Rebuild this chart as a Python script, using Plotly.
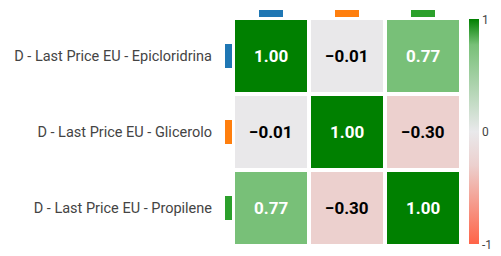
import plotly.graph_objects as go

labels = ["D - Last Price EU - Epicloridrina",
          "D - Last Price EU - Glicerolo",
          "D - Last Price EU - Propilene"]
series_colors = ["#1f77b4", "#ff7f0e", "#2ca02c"]
corr = [[1.00, -0.01, 0.77],
        [-0.01, 1.00, -0.30],
        [0.77, -0.30, 1.00]]
cbar_ticks = [-1, 0, 1]
cbar_text = ["-1", "0", "1"]

colorscale = [
    [0.0, "rgb(255,99,71)"],
    [0.35, "rgb(236,208,206)"],
    [0.5, "rgb(233,233,235)"],
    [0.885, "rgb(120,192,120)"],
    [1.0, "rgb(0,128,0)"],
]

n = len(labels)
idx = list(range(n))
text_colors = [["white" if v > 0.5 else "black" for v in row] for row in corr]

fig = go.Figure()
fig.add_trace(go.Heatmap(
    z=corr, x=idx, y=idx,
    zmin=-1, zmax=1,
    colorscale=colorscale,
    xgap=4, ygap=4,
    showscale=True,
    hoverinfo="skip",
    colorbar=dict(
        x=1.035, xanchor="left", xpad=0,
        y=0.5, yanchor="middle", ypad=0,
        len=0.985, lenmode="fraction",
        thickness=10, outlinewidth=0,
        tickvals=cbar_ticks, ticktext=cbar_text,
        ticks="", tickfont=dict(size=12, color="#444", family="Roboto"),
    ),
))

# cell annotations
for i in range(n):
    for j in range(n):
        fig.add_annotation(
            x=j, y=i, xref="x", yref="y",
            text=f"<b>{corr[i][j]:.2f}</b>".replace("-", "\u2212"),
            showarrow=False,
            font=dict(size=17, color=text_colors[i][j], family="Roboto"),
        )

# color marker shapes
for k in range(n):
    fig.add_shape(type="rect", xref="x", yref="paper",
                  x0=k - 0.158, x1=k + 0.158,
                  ysizemode="pixel", yanchor=1, y0=1, y1=8,
                  fillcolor=series_colors[k], line=dict(width=0))
    fig.add_shape(type="rect", xref="paper", yref="y",
                  y0=k - 0.158, y1=k + 0.158,
                  xsizemode="pixel", xanchor=0, x0=-8, x1=-1,
                  fillcolor=series_colors[k], line=dict(width=0))

fig.update_xaxes(showticklabels=False, showgrid=False, zeroline=False,
                 range=[-0.5, n - 0.5])
fig.update_yaxes(tickvals=idx, ticktext=labels, autorange=False,
                 range=[n - 0.5, -0.5], showgrid=False, zeroline=False,
                 ticks="", ticklabelstandoff=20,
                 tickfont=dict(size=14.5, color="#444", family="Roboto"))

fig.update_layout(
    width=501, height=256,
    margin=dict(l=233, r=40, t=18, b=10),
    paper_bgcolor="white", plot_bgcolor="white",
    font=dict(family="Roboto"),
)

fig.write_html("out.html")
